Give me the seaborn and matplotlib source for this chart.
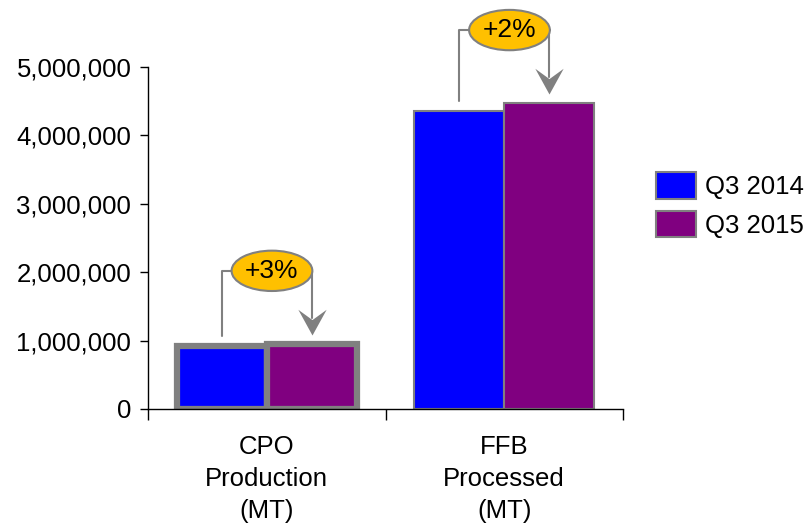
#!/usr/bin/env python3
"""CPO / FFB Q3 비교 막대그래프"""

import pandas as pd
import matplotlib.pyplot as plt
import seaborn as sns
from matplotlib.patches import Ellipse, Patch
from matplotlib.path import Path
from matplotlib.ticker import FuncFormatter

# 데이터
categories = ['CPO\nProduction\n(MT)', 'FFB\nProcessed\n(MT)']
periods = ['Q3 2014', 'Q3 2015']
values_2014 = [920000, 4360000]
values_2015 = [950000, 4470000]
changes = ['+3%', '+2%']
colors = ['#0000FF', '#800080']

sns.set_theme(style='white')
plt.rcParams['font.family'] = ['Liberation Sans', 'DejaVu Sans']
plt.rcParams['text.color'] = 'black'
plt.rcParams['xtick.color'] = 'black'
plt.rcParams['ytick.color'] = 'black'

df = pd.DataFrame({
    'category': categories * 2,
    'period': [periods[0]] * 2 + [periods[1]] * 2,
    'value': values_2014 + values_2015,
})

fig = plt.figure(figsize=(8.06, 5.25), dpi=100)
ax = fig.add_axes([148 / 806, 1 - 409 / 525, 475 / 806, 342 / 525])

sns.barplot(data=df, x='category', y='value', hue='period', palette=colors,
            width=0.76, ax=ax, legend=False, saturation=1)

# 테두리: CPO는 두껍게, FFB는 얇게
for p in ax.patches:
    cx = p.get_x() + p.get_width() / 2
    p.set_edgecolor('#808080')
    p.set_linewidth(4.5 if cx < 0.5 else 1.5)

ax.set_xlim(-0.5, 1.5)
ax.set_ylim(0, 5000000)
ax.set_yticks(range(0, 5000001, 1000000))
ax.yaxis.set_major_formatter(FuncFormatter(lambda v, _: f'{int(v):,}'))
ax.set_xlabel('')
ax.set_ylabel('')

# x축: 구분 눈금 + 라벨
ax.set_xticks([-0.5, 0.5, 1.5])
ax.set_xticklabels([])
ax.set_xticks([0, 1], minor=True)
ax.set_xticklabels(categories, minor=True, fontsize=18.5, linespacing=1.42)
ax.tick_params(axis='x', which='major', direction='out', length=8, width=1,
               bottom=True)
ax.tick_params(axis='x', which='minor', length=0, pad=19)
ax.tick_params(axis='y', direction='out', length=6, width=1,
               left=True, labelsize=18.5, pad=6)

for s in ['top', 'right']:
    ax.spines[s].set_visible(False)
for s in ['left', 'bottom']:
    ax.spines[s].set_color('black')
    ax.spines[s].set_linewidth(1)

# 화살촉 모양 (V자)
head = Path([(0, 0), (-0.55, 1.0), (0, 0.6), (0.55, 1.0), (0, 0)],
            [Path.MOVETO, Path.LINETO, Path.LINETO, Path.LINETO, Path.CLOSEPOLY])

# 증감 표시 (말풍선 + 화살표)
half = 0.19
gray = '#808080'
for i, (v1, v2, txt) in enumerate(zip(values_2014, values_2015, changes)):
    x1, x2 = i - half, i + half
    top = max(v1, v2)
    y_line = top + 1070000
    ell_x = i + 0.022
    ell_w, ell_h = 0.34, 590000
    start_y = v1 + 150000
    end_y = v2 + 130000
    ax.plot([x1, x1, ell_x - ell_w / 2], [start_y, y_line, y_line],
            color=gray, lw=1.5, clip_on=False)
    ax.plot([ell_x + ell_w / 2, x2, x2], [y_line, y_line, end_y + 250000],
            color=gray, lw=1.5, clip_on=False)
    ax.plot([x2], [end_y], marker=head, markersize=37, color=gray,
            markeredgewidth=0, clip_on=False)
    ax.add_patch(Ellipse((ell_x, y_line), ell_w, ell_h, facecolor='#FFC000',
                         edgecolor=gray, lw=1.5, clip_on=False, zorder=5))
    ax.text(ell_x, y_line, txt, ha='center', va='center', fontsize=19,
            zorder=6, clip_on=False)

# 범례
handles = [Patch(facecolor=c, edgecolor=gray, lw=1.5, label=l)
           for c, l in zip(colors, periods)]
fig.legend(handles=handles, loc='center left', bbox_to_anchor=(638 / 806, 1 - 205 / 525),
           frameon=False, fontsize=18.5, handlelength=1.55, handleheight=1.2,
           handletextpad=0.35, labelspacing=0.45, borderpad=0.2)

plt.savefig('out.png', dpi=100)
plt.close()
